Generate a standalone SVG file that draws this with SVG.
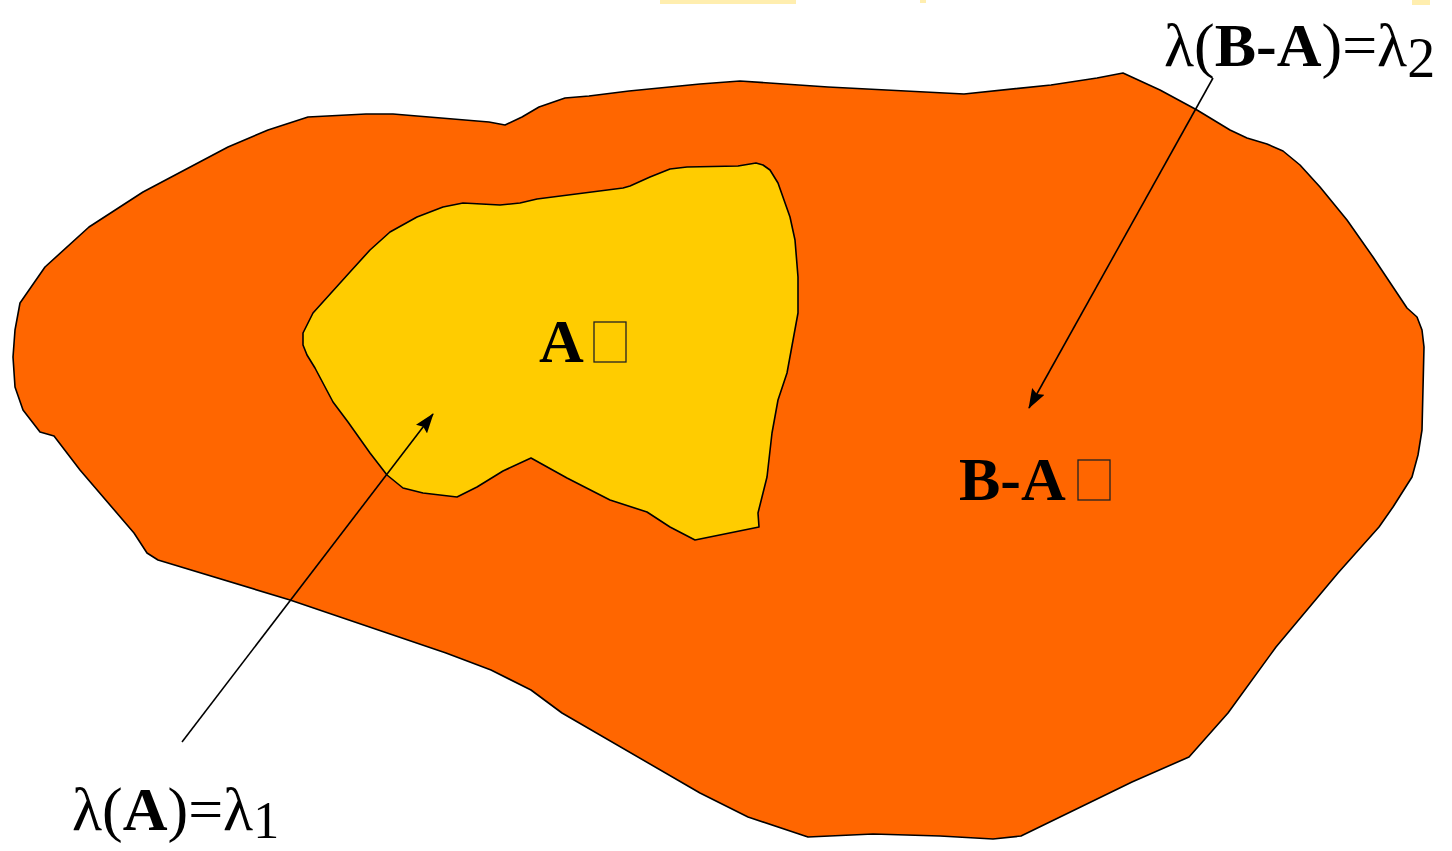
<svg xmlns="http://www.w3.org/2000/svg" width="1452" height="851" viewBox="0 0 1452 851">
  <defs>
    <style>
      .region { stroke: #000; stroke-width: 1.6; stroke-linejoin: round; }
      .lbl { font-family: "Liberation Serif", "Times New Roman", serif; font-size: 62px; fill: #000; }
      .b { font-weight: bold; }
      .tofu { fill: none; stroke: #222; stroke-width: 1.3; }
      .conn { stroke: #000; stroke-width: 1.6; fill: none; marker-end: url(#arrow); }
      .frag { fill: #FFE27A; opacity: 0.6; }
    </style>
    <marker id="arrow" viewBox="0 0 20 14" refX="19" refY="7" markerWidth="20" markerHeight="14" markerUnits="userSpaceOnUse" orient="auto">
      <path d="M0,0 L20,7 L0,14 L3,7 Z" fill="#000"/>
    </marker>
  </defs>
  <rect x="0" y="0" width="1452" height="851" fill="#fff"/>
  <rect class="frag" x="660" y="0" width="136" height="4"/>
  <rect class="frag" x="920" y="0" width="6" height="3"/>
  <rect class="frag" x="1412" y="0" width="18" height="5"/>

  <g id="nodeB">
    <path class="region" fill="#FF6600" d="M20,303 L45,267 L89,227 L143,192 L228,147 L268,130 L308,117 L366,114 L393,114 L489,122 L505,125 L522,117 L539,107 L565,98 L589,96 L629,91 L700,84 L740,81 L828,87 L964,94 L1051,85 L1097,78 L1123,73 L1160,90 L1197,110 L1230,130 L1247,138 L1267,144 L1283,151 L1300,165 L1320,187 L1347,220 L1373,257 L1407,308 L1417,317 L1422,330 L1424,347 L1422,430 L1418,455 L1412,477 L1393,507 L1379,527 L1338,573 L1276,647 L1228,713 L1189,757 L1132,782 L1021,836 L993,839 L940,836 L873,834 L808,837 L748,817 L700,793 L562,713 L531,690 L491,670 L446,653 L290,600 L158,560 L147,553 L134,533 L80,470 L54,436 L40,432 L23,410 L15,387 L13,357 L15,330 Z"/>
  </g>
  <g id="nodeA">
    <path class="region" fill="#FFCC00" d="M756,163 L738,166 L687,167 L670,169 L650,177 L630,186 L623,188 L537,199 L520,203 L500,205 L463,203 L443,207 L417,217 L390,232 L370,250 L350,272 L313,313 L303,333 L303,345 L307,355 L315,368 L333,402 L348,422 L370,453 L387,475 L403,488 L423,493 L457,497 L477,487 L503,471 L531,458 L567,478 L610,500 L647,512 L670,527 L695,540 L759,527 L758,513 L763,493 L767,477 L772,433 L778,400 L787,373 L798,313 L798,277 L795,240 L790,217 L778,183 L770,170 L763,165 Z"/>
  </g>

  <g id="labelA">
    <text class="lbl b" x="539" y="362">A</text>
    <rect class="tofu" x="594" y="322" width="32" height="40"/>
  </g>
  <g id="labelBA">
    <text class="lbl b" x="959" y="500">B-A</text>
    <rect class="tofu" x="1078" y="460" width="32" height="40"/>
  </g>

  <g id="connectors">
    <line class="conn" x1="182" y1="742" x2="433" y2="414"/>
    <line class="conn" x1="1213" y1="78" x2="1029" y2="408"/>
  </g>

  <g id="label-lambda1">
    <text class="lbl" x="72" y="830">λ(<tspan class="b">A</tspan>)=λ<tspan font-size="52" y="838">1</tspan></text>
  </g>
  <g id="label-lambda2">
    <text class="lbl" x="1164" y="66">λ(<tspan class="b">B-A</tspan>)=λ<tspan font-size="56" y="77">2</tspan></text>
  </g>
</svg>
